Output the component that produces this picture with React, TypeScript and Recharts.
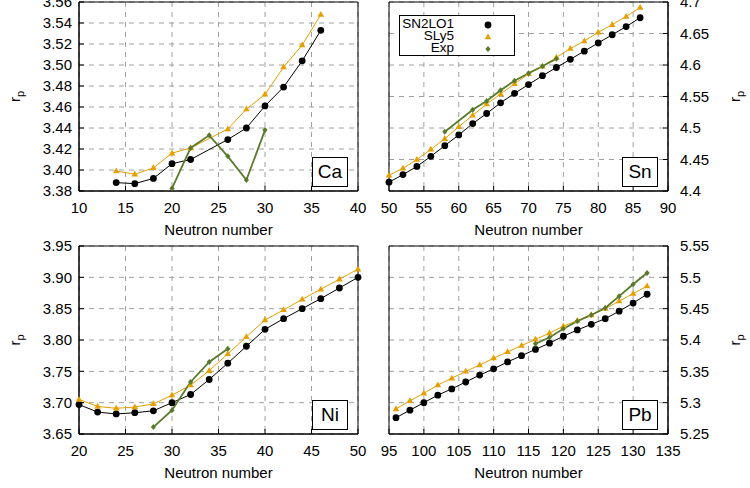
import React from 'react';
import { LineChart, Line, XAxis, YAxis, CartesianGrid, ReferenceArea } from 'recharts';

const FONT = '"Liberation Sans", Arial, Helvetica, sans-serif';
const BLACK = '#000000';
const ORANGE = '#e69f00';
const GREEN = '#587a2c';

// Ca
const caN = [14, 16, 18, 20, 22, 26, 28, 30, 32, 34, 36];
const caSN2LO1 = [3.388, 3.387, 3.392, 3.406, 3.410, 3.429, 3.440, 3.461, 3.479, 3.504, 3.533];
const caSLy5 = [3.399, 3.396, 3.402, 3.416, 3.421, 3.439, 3.458, 3.472, 3.498, 3.519, 3.548];
const caExpN = [20, 22, 24, 26, 28, 30];
const caExp = [3.3825, 3.421, 3.433, 3.413, 3.3905, 3.438];
const caTicksX = [10, 15, 20, 25, 30, 35, 40];
const caTicksY = [3.38, 3.40, 3.42, 3.44, 3.46, 3.48, 3.50, 3.52, 3.54, 3.56];

// Sn
const snN = [50, 52, 54, 56, 58, 60, 62, 64, 66, 68, 70, 72, 74, 76, 78, 80, 82, 84, 86];
const snSN2LO1 = [4.414, 4.426, 4.439, 4.455, 4.472, 4.489, 4.507, 4.523, 4.540, 4.555, 4.569, 4.583, 4.596, 4.609, 4.622, 4.635, 4.648, 4.661, 4.675];
const snSLy5 = [4.425, 4.436, 4.450, 4.466, 4.483, 4.502, 4.520, 4.538, 4.554, 4.570, 4.586, 4.598, 4.612, 4.626, 4.638, 4.652, 4.664, 4.677, 4.691];
const snExpN = [58, 62, 64, 66, 68, 70, 72, 74];
const snExp = [4.494, 4.529, 4.543, 4.560, 4.575, 4.587, 4.598, 4.610];
const snTicksX = [50, 55, 60, 65, 70, 75, 80, 85, 90];
const snTicksY = [4.4, 4.45, 4.5, 4.55, 4.6, 4.65, 4.7];

// Ni
const niN = [20, 22, 24, 26, 28, 30, 32, 34, 36, 38, 40, 42, 44, 46, 48, 50];
const niSN2LO1 = [3.697, 3.685, 3.682, 3.684, 3.687, 3.700, 3.713, 3.737, 3.763, 3.790, 3.817, 3.834, 3.850, 3.866, 3.883, 3.900];
const niSLy5 = [3.705, 3.694, 3.691, 3.693, 3.698, 3.712, 3.728, 3.751, 3.778, 3.805, 3.832, 3.848, 3.865, 3.881, 3.897, 3.913];
const niExpN = [28, 30, 32, 34, 36];
const niExp = [3.661, 3.688, 3.733, 3.765, 3.786];
const niTicksX = [20, 25, 30, 35, 40, 45, 50];
const niTicksY = [3.65, 3.70, 3.75, 3.80, 3.85, 3.90, 3.95];

// Pb
const pbN = [96, 98, 100, 102, 104, 106, 108, 110, 112, 114, 116, 118, 120, 122, 124, 126, 128, 130, 132];
const pbSN2LO1 = [5.276, 5.288, 5.300, 5.312, 5.322, 5.333, 5.344, 5.354, 5.365, 5.375, 5.385, 5.395, 5.406, 5.416, 5.425, 5.434, 5.446, 5.459, 5.473];
const pbSLy5 = [5.290, 5.303, 5.315, 5.328, 5.339, 5.350, 5.360, 5.371, 5.381, 5.391, 5.401, 5.411, 5.422, 5.431, 5.440, 5.450, 5.462, 5.474, 5.486];
const pbExpN = [116, 118, 120, 122, 124, 126, 128, 130, 132];
const pbExp = [5.394, 5.404, 5.418, 5.430, 5.440, 5.451, 5.470, 5.489, 5.507];
const pbTicksX = [95, 100, 105, 110, 115, 120, 125, 130, 135];
const pbTicksY = [5.25, 5.3, 5.35, 5.4, 5.45, 5.5, 5.55];

const seriesNames = ['SN2LO1', 'SLy5', 'Exp'];

const zip = (ns: number[], vs: number[]) => ns.map((n, i) => ({ n, r: vs[i] }));

const fix2 = (v: number) => v.toFixed(2);
const gfmt = (v: number) => String(+v.toFixed(2));

function Circle(p: any) {
  if (p.cx == null || p.cy == null) return <g key={`c${p.index}`} />;
  return <circle key={`c${p.index}`} cx={p.cx} cy={p.cy} r={3.4} fill={BLACK} />;
}
function Tri(p: any) {
  if (p.cx == null || p.cy == null) return <g key={`t${p.index}`} />;
  const { cx, cy } = p;
  return <polygon key={`t${p.index}`} points={`${cx},${cy - 3.6} ${cx - 3.3},${cy + 2.2} ${cx + 3.3},${cy + 2.2}`} fill={ORANGE} />;
}
function Diamond(p: any) {
  if (p.cx == null || p.cy == null) return <g key={`m${p.index}`} />;
  const { cx, cy } = p;
  return <polygon key={`m${p.index}`} points={`${cx},${cy - 3} ${cx + 2.6},${cy} ${cx},${cy + 3} ${cx - 2.6},${cy}`} fill={GREEN} />;
}

function RpTitle({ viewBox, dx }: any) {
  const bx = viewBox.x + dx;
  const cy = viewBox.y + viewBox.height / 2;
  return (
    <text x={bx} y={cy} transform={`rotate(-90 ${bx} ${cy})`} textAnchor="middle" fontSize={15} fontFamily={FONT} fill="#000">
      r<tspan dy={4} fontSize={11}>p</tspan>
    </text>
  );
}

type PanelProps = {
  left: number;
  top: number;
  side: 'left' | 'right';
  xTicks: number[];
  yTicks: number[];
  yFmt: (v: number) => string;
  sn2lo1: { n: number; r: number }[];
  sly5: { n: number; r: number }[];
  exp: { n: number; r: number }[];
  tag: string;
  bottomRow: boolean;
};

function Panel({ left, top, side, xTicks, yTicks, yFmt, sn2lo1, sly5, exp, tag, bottomRow }: PanelProps) {
  const xDom = [xTicks[0], xTicks[xTicks.length - 1]];
  const yDom = [yTicks[0], yTicks[yTicks.length - 1]];
  const axisH = bottomRow ? 54 : 53;
  const padTop = bottomRow ? 12 : 2;
  const h = bottomRow ? 254 : 244;
  const margin = side === 'left'
    ? { top: padTop, right: 17, bottom: 0, left: 0 }
    : { top: padTop, right: 0, bottom: 0, left: 14 };
  const plotRight = side === 'left' ? 358 : 293;
  const plotBottom = h - axisH;
  const tickStyle = { fontSize: 15, fill: '#000', fontFamily: FONT };
  return (
    <div style={{ position: 'absolute', left, top, width: 375, height: h }}>
      <LineChart width={375} height={h} margin={margin}>
        <CartesianGrid stroke="#a0a0a0" strokeDasharray="5 5" />
        <XAxis
          type="number"
          dataKey="n"
          domain={xDom}
          ticks={xTicks}
          interval={0}
          height={axisH}
          tick={tickStyle}
          tickSize={-5}
          tickMargin={16}
          tickLine={{ stroke: '#000' }}
          axisLine={{ stroke: '#000' }}
          allowDuplicatedCategory={false}
          label={{ value: 'Neutron number', position: 'insideBottom', offset: bottomRow ? 10 : 9, fill: '#000', fontSize: 15, fontFamily: FONT }}
        />
        <YAxis
          type="number"
          orientation={side}
          domain={yDom}
          ticks={yTicks}
          interval={0}
          width={side === 'left' ? 79 : 82}
          tick={tickStyle}
          tickFormatter={yFmt}
          tickSize={-5}
          tickMargin={side === 'left' ? 12 : 17}
          tickLine={{ stroke: '#000' }}
          axisLine={{ stroke: '#000' }}
          label={{ content: (p: any) => <RpTitle viewBox={p.viewBox} dx={side === 'left' ? 20 : 72} /> }}
        />
        <ReferenceArea x1={xDom[0]} x2={xDom[1]} y1={yDom[0]} y2={yDom[1]} fill="none" fillOpacity={0} stroke="#000" strokeWidth={1} />
        <Line data={sn2lo1} dataKey="r" name={seriesNames[0]} stroke={BLACK} strokeWidth={1} dot={Circle} isAnimationActive={false} />
        <Line data={sly5} dataKey="r" name={seriesNames[1]} stroke={ORANGE} strokeWidth={1} dot={Tri} isAnimationActive={false} />
        <Line data={exp} dataKey="r" name={seriesNames[2]} stroke={GREEN} strokeWidth={1.8} dot={Diamond} isAnimationActive={false} />
      </LineChart>
      <div
        style={{
          position: 'absolute',
          left: plotRight - 10 - 36,
          top: plotBottom - 4 - 30,
          width: 34,
          height: 28,
          border: '1px solid #000',
          background: '#fff',
          fontFamily: FONT,
          fontSize: 19,
          lineHeight: '28px',
          textAlign: 'center',
        }}
      >
        {tag}
      </div>
    </div>
  );
}

function LegendBox() {
  const markers = [
    <circle cx={6} cy={6} r={3.4} fill={BLACK} />,
    <polygon points="6,2.4 2.7,8.2 9.3,8.2" fill={ORANGE} />,
    <polygon points="6,3 8.6,6 6,9 3.4,6" fill={GREEN} />,
  ];
  return (
    <div
      style={{
        position: 'absolute',
        left: 399,
        top: 15,
        width: 114,
        height: 39,
        border: '1px solid #000',
        background: '#fff',
        fontFamily: FONT,
        fontSize: 13.5,
      }}
    >
      {seriesNames.map((s, i) => (
        <div key={s} style={{ position: 'absolute', left: 0, top: 2 + i * 12, height: 12, width: 114 }}>
          <span style={{ position: 'absolute', right: 60, top: 0, whiteSpace: 'nowrap', lineHeight: '12px' }}>{s}</span>
          <svg width={12} height={12} style={{ position: 'absolute', left: 82, top: 1 }}>
            {markers[i]}
          </svg>
        </div>
      ))}
    </div>
  );
}

export default function App() {
  return (
    <div style={{ position: 'absolute', left: 0, top: 0, width: 750, height: 488, background: '#fff', fontFamily: FONT }}>
      <Panel left={0} top={0} side="left" xTicks={caTicksX} yTicks={caTicksY} yFmt={fix2}
        sn2lo1={zip(caN, caSN2LO1)} sly5={zip(caN, caSLy5)} exp={zip(caExpN, caExp)} tag="Ca" bottomRow={false} />
      <Panel left={375} top={0} side="right" xTicks={snTicksX} yTicks={snTicksY} yFmt={gfmt}
        sn2lo1={zip(snN, snSN2LO1)} sly5={zip(snN, snSLy5)} exp={zip(snExpN, snExp)} tag="Sn" bottomRow={false} />
      <Panel left={0} top={234} side="left" xTicks={niTicksX} yTicks={niTicksY} yFmt={fix2}
        sn2lo1={zip(niN, niSN2LO1)} sly5={zip(niN, niSLy5)} exp={zip(niExpN, niExp)} tag="Ni" bottomRow />
      <Panel left={375} top={234} side="right" xTicks={pbTicksX} yTicks={pbTicksY} yFmt={gfmt}
        sn2lo1={zip(pbN, pbSN2LO1)} sly5={zip(pbN, pbSLy5)} exp={zip(pbExpN, pbExp)} tag="Pb" bottomRow />
      <LegendBox />
    </div>
  );
}
